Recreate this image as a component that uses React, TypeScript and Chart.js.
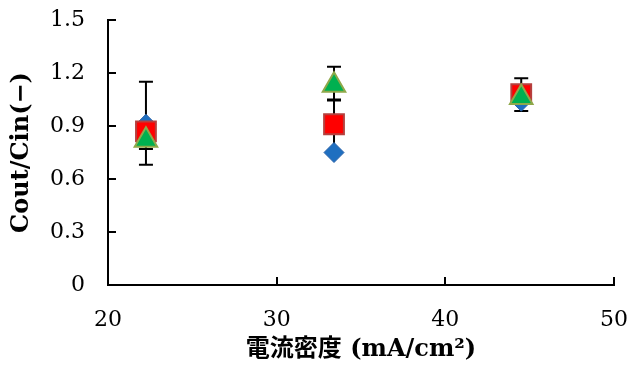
import React, { useEffect, useRef } from "react";
import { Chart, registerables } from "chart.js";

Chart.register(...registerables);

// ---- data ----
const xValues = [22.25, 33.4, 44.5];
const seriesBlue = [0.91, 0.75, 1.04];
const seriesRed = [0.87, 0.91, 1.08];
const seriesGreen = [0.82, 1.13, 1.062];
const bluePlus = [0.24, 0.3, 0];
const blueMinus = [0.23, 0, 0];
const redPlus = [0, 0, 0.09];
const redMinus = [0.1, 0, 0.095];
const greenPlus = [0, 0.105, 0];
const greenMinus = [0, 0.085, 0];
const xTicks = [20, 30, 40, 50];
const yTicks = [0, 0.3, 0.6, 0.9, 1.2, 1.5];
const yTickLabels = ["0", "0.3", "0.6", "0.9", "1.2", "1.5"];
const xTitle = "電流密度 (mA/cm²)";
const yTitle = "Cout/Cin(−)";

const FONT = "'DejaVu Serif', 'Noto Sans CJK JP', serif";

const errorBarPlugin = {
  id: "errorBars",
  beforeDatasetsDraw(chart: any) {
    const ctx = chart.ctx;
    const xs = chart.scales.x;
    const ys = chart.scales.y;
    ctx.save();
    ctx.strokeStyle = "#000";
    ctx.lineWidth = 2;
    chart.data.datasets.forEach((ds: any) => {
      const plus = ds.errPlus || [];
      const minus = ds.errMinus || [];
      ds.data.forEach((pt: any, i: number) => {
        const px = xs.getPixelForValue(pt.x);
        const p = plus[i] || 0;
        const m = minus[i] || 0;
        const cap = 7;
        const segs: number[] = [];
        if (p > 0) segs.push(pt.y + p);
        if (m > 0) segs.push(pt.y - m);
        segs.forEach((v) => {
          const y0 = ys.getPixelForValue(pt.y);
          const y1 = ys.getPixelForValue(v);
          ctx.beginPath();
          ctx.moveTo(px, y0);
          ctx.lineTo(px, y1);
          ctx.moveTo(px - cap, y1);
          ctx.lineTo(px + cap, y1);
          ctx.stroke();
        });
      });
    });
    ctx.restore();
  },
};

const insideTicksPlugin = {
  id: "insideTicks",
  afterDraw(chart: any) {
    const ctx = chart.ctx;
    const xs = chart.scales.x;
    const ys = chart.scales.y;
    const area = chart.chartArea;
    const len = 8;
    ctx.save();
    ctx.strokeStyle = "#000";
    ctx.lineWidth = 2;
    ctx.beginPath();
    xTicks.forEach((v) => {
      const px = Math.round(xs.getPixelForValue(v));
      ctx.moveTo(px, area.bottom);
      ctx.lineTo(px, area.bottom - len);
    });
    yTicks.forEach((v) => {
      const py = Math.round(ys.getPixelForValue(v));
      ctx.moveTo(area.left, py);
      ctx.lineTo(area.left + len, py);
    });
    ctx.stroke();
    ctx.restore();
  },
};

export default function App() {
  const ref = useRef<HTMLCanvasElement | null>(null);

  useEffect(() => {
    if (!ref.current) return;
    const toPts = (arr: number[]) => arr.map((y, i) => ({ x: xValues[i], y }));
    const chart = new Chart(ref.current, {
      type: "scatter",
      data: {
        datasets: [
          {
            label: "A",
            data: toPts(seriesBlue),
            errPlus: bluePlus,
            errMinus: blueMinus,
            pointStyle: "rectRot",
            pointRadius: 10,
            backgroundColor: "#1F6FC0",
            borderColor: "#2A62A8",
            borderWidth: 1,
            order: 3,
          } as any,
          {
            label: "B",
            data: toPts(seriesRed),
            errPlus: redPlus,
            errMinus: redMinus,
            pointStyle: "rect",
            pointRadius: 14,
            backgroundColor: "#FF0000",
            borderColor: "#B5403E",
            borderWidth: 2,
            order: 2,
          } as any,
          {
            label: "C",
            data: toPts(seriesGreen),
            errPlus: greenPlus,
            errMinus: greenMinus,
            pointStyle: "triangle",
            pointRadius: 13,
            backgroundColor: "#00B050",
            borderColor: "#8FA84A",
            borderWidth: 2,
            order: 1,
          } as any,
        ],
      },
      options: {
        animation: false,
        responsive: false,
        layout: { padding: { top: 20, right: 17, bottom: 0, left: 0 } },
        plugins: {
          legend: { display: false },
          tooltip: { enabled: false },
        },
        scales: {
          x: {
            type: "linear",
            min: 20,
            max: 50,
            afterBuildTicks: (scale: any) => {
              scale.ticks = xTicks.map((v) => ({ value: v }));
            },
            afterFit: (scale: any) => {
              scale.height = 81;
              scale.paddingLeft = 0;
              scale.paddingRight = 0;
            },
            ticks: {
              color: "#000",
              padding: 22,
              maxRotation: 0,
              font: { family: FONT, size: 22 },
            },
            grid: { drawOnChartArea: false, drawTicks: false },
            border: { display: true, color: "#000", width: 2 },
            title: {
              display: true,
              text: xTitle,
              color: "#000",
              padding: { top: 0, bottom: 2 },
              font: { family: FONT, size: 24, weight: "bold" },
            },
          },
          y: {
            type: "linear",
            min: 0,
            max: 1.5,
            afterBuildTicks: (scale: any) => {
              scale.ticks = yTicks.map((v) => ({ value: v }));
            },
            afterFit: (scale: any) => {
              scale.width = 108;
              scale.paddingTop = 0;
              scale.paddingBottom = 0;
            },
            ticks: {
              color: "#000",
              padding: 23,
              font: { family: FONT, size: 22 },
              callback: (v: any) => {
                const i = yTicks.indexOf(Number(v));
                return i >= 0 ? yTickLabels[i] : String(v);
              },
            },
            grid: { drawOnChartArea: false, drawTicks: false },
            border: { display: true, color: "#000", width: 2 },
            title: {
              display: true,
              text: yTitle,
              color: "#000",
              padding: { top: 7, bottom: 0 },
              font: { family: FONT, size: 24, weight: "bold" },
            },
          },
        },
      },
      plugins: [errorBarPlugin, insideTicksPlugin],
    } as any);
    return () => chart.destroy();
  }, []);

  return (
    <div style={{ position: "fixed", left: 0, top: 0, width: 631, height: 366, background: "#fff" }}>
      <canvas ref={ref} width={631} height={366} />
    </div>
  );
}
